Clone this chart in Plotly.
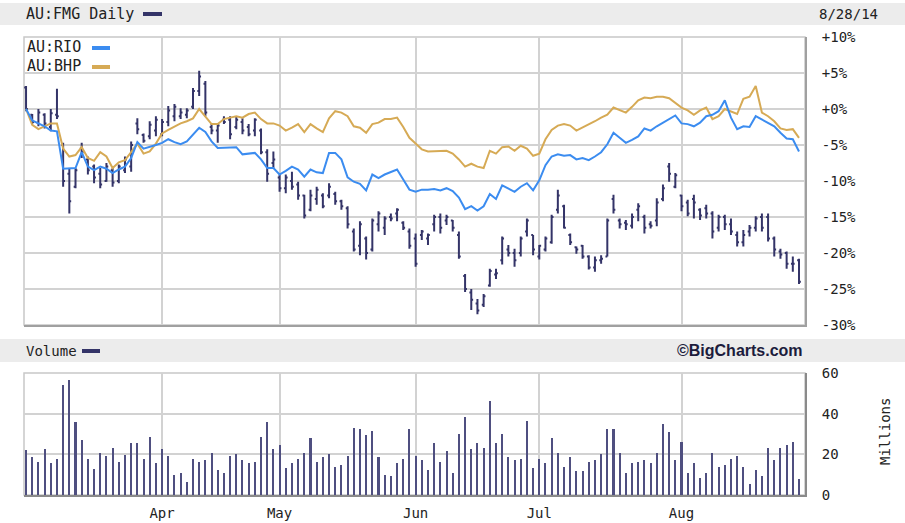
import plotly.graph_objects as go
import pandas as pd

# ---- trading days (ASX, 28 Feb 2014 - 28 Aug 2014) ----
all_days = pd.bdate_range("2014-02-28", "2014-08-28")
holidays = pd.to_datetime(["2014-04-18", "2014-04-21", "2014-04-25", "2014-06-09"])
dates = all_days[~all_days.isin(holidays)]
x = list(range(len(dates)))

month_labels = ["Apr", "May", "Jun", "Jul", "Aug"]
price_ticks = [10, 5, 0, -5, -10, -15, -20, -25, -30]
price_tick_text = ["+10%", "+5%", "+0%", "-5%", "-10%", "-15%", "-20%", "-25%", "-30%"]
volume_ticks = [0, 20, 40, 60]

# ---- AU:FMG daily OHLC, % change ----
fmg_open = [3.0, -0.8, -1.9, -0.8, -2.5, -0.8, -5.0, -9.0, -10.8, -5.5,
            -7.0, -8.0, -9.0, -10.0, -8.5, -10.0, -8.5, -8.0, -2.0, -3.6,
            -3.8, -3.0, -3.5, -1.8, -1.0, -1.0, -0.8, 0.3, 2.5, 3.5,
            -2.5, -3.0, -1.5, -1.5, -2.5, -1.8, -2.5, -3.0, -3.0, -6.0,
            -7.5, -9.5, -11.0, -10.0, -10.5, -12.0, -14.0, -12.5, -12.0, -12.0,
            -11.8, -12.8, -13.8, -17.0, -19.0, -18.0, -19.5, -16.0, -16.5, -15.0,
            -14.5, -15.8, -17.0, -18.0, -17.5, -18.0, -16.0, -15.0, -15.5, -15.5,
            -17.5, -23.2, -25.5, -27.0, -27.2, -24.5, -23.0, -21.0, -19.5, -20.0,
            -20.0, -17.0, -17.5, -20.5, -19.5, -18.5, -14.0, -13.5, -17.5, -19.2,
            -19.0, -20.5, -22.0, -21.0, -20.5, -12.5, -15.5, -15.8, -16.2, -14.0,
            -15.0, -16.0, -15.5, -12.5, -8.0, -10.8, -12.0, -13.0, -12.5, -14.0,
            -13.8, -14.5, -16.5, -15.0, -16.0, -17.5, -18.5, -17.0, -16.5, -15.0,
            -15.0, -18.0, -19.8, -20.0, -21.5, -21.0]
fmg_high = [3.2, -0.7, 0.0, -0.6, 0.0, 2.8, -4.7, -8.2, -8.2, -4.7,
            -6.6, -7.7, -8.2, -7.5, -8.2, -7.7, -6.6, -4.5, -1.3, -3.4,
            -1.7, -1.0, -1.4, 0.4, 0.7, 0.1, 0.1, 2.9, 5.3, 3.9,
            -2.1, -2.1, -1.0, -1.0, -1.0, -1.3, -2.1, -1.3, -2.7, -5.6,
            -5.9, -9.1, -9.1, -8.7, -10.1, -11.9, -11.2, -10.8, -11.7, -10.3,
            -11.5, -12.6, -13.5, -16.6, -15.6, -17.7, -15.2, -14.2, -14.9, -14.5,
            -13.8, -15.6, -16.6, -17.3, -16.8, -17.3, -14.7, -14.5, -14.7, -15.4,
            -17.0, -22.9, -25.0, -26.4, -25.7, -22.2, -22.2, -17.7, -18.9, -19.4,
            -17.7, -15.2, -17.5, -18.9, -17.7, -14.7, -11.2, -13.3, -17.3, -19.1,
            -18.9, -20.3, -20.5, -20.3, -15.2, -11.9, -15.2, -15.4, -14.5, -13.1,
            -14.7, -15.6, -12.4, -10.5, -7.5, -8.9, -11.9, -12.6, -11.9, -13.8,
            -13.3, -14.2, -14.7, -14.7, -15.2, -17.0, -16.8, -16.1, -14.9, -14.5,
            -14.5, -17.7, -19.4, -19.8, -20.5, -20.8]
fmg_low = [-0.3, -2.1, -2.4, -2.7, -3.1, -1.4, -10.8, -14.5, -11.0, -6.8,
           -9.1, -10.3, -11.0, -10.1, -10.8, -10.3, -8.9, -8.7, -3.5, -4.7,
           -4.2, -3.8, -3.8, -2.4, -1.7, -1.4, -1.3, 0.0, 1.8, -1.0,
           -3.5, -4.7, -2.1, -4.2, -2.8, -3.5, -3.8, -3.8, -6.3, -10.1,
           -8.2, -11.5, -11.7, -11.2, -12.6, -15.2, -14.2, -13.3, -13.8, -12.4,
           -13.3, -14.0, -16.6, -19.8, -20.3, -20.9, -19.8, -17.0, -17.5, -15.6,
           -15.6, -16.8, -19.4, -21.9, -18.2, -18.9, -17.0, -17.3, -16.1, -17.0,
           -20.8, -25.4, -27.9, -28.5, -27.5, -24.7, -23.6, -21.6, -20.5, -21.9,
           -20.5, -17.7, -20.3, -20.9, -19.8, -18.7, -14.5, -16.6, -18.9, -20.1,
           -20.8, -22.3, -22.6, -21.5, -20.5, -14.5, -16.6, -16.8, -16.6, -15.6,
           -17.3, -16.6, -16.3, -12.8, -10.1, -11.0, -14.2, -14.9, -15.2, -15.4,
           -15.2, -18.0, -17.0, -16.8, -17.5, -19.1, -19.1, -17.7, -17.0, -17.0,
           -18.4, -20.5, -20.8, -22.2, -22.6, -24.3]
fmg_close = [0.0, -1.8, -0.5, -2.0, -0.6, -1.0, -10.0, -12.8, -8.5, -6.0,
             -8.5, -9.5, -10.5, -8.0, -10.2, -8.0, -7.0, -5.0, -2.8, -4.4,
             -2.2, -1.5, -1.8, -0.2, 0.3, -0.5, -0.2, 2.5, 4.5, -0.5,
             -3.0, -2.3, -1.8, -3.5, -1.5, -3.0, -3.5, -1.5, -6.0, -9.0,
             -7.0, -11.0, -9.5, -10.8, -12.0, -14.8, -12.0, -11.2, -13.5, -10.8,
             -12.8, -13.5, -16.0, -19.5, -16.0, -20.0, -15.5, -14.5, -15.2, -15.2,
             -14.0, -16.5, -19.0, -21.5, -17.0, -17.5, -15.0, -16.5, -15.0, -16.5,
             -20.5, -25.0, -26.5, -28.0, -26.0, -22.5, -22.8, -18.0, -20.0, -21.0,
             -18.0, -15.5, -19.5, -19.0, -18.0, -15.0, -12.0, -16.5, -18.5, -19.5,
             -20.5, -22.0, -21.0, -20.8, -15.5, -14.0, -16.0, -16.0, -15.0, -13.5,
             -16.5, -16.2, -13.0, -11.0, -9.0, -9.2, -13.5, -14.5, -13.0, -14.8,
             -14.5, -17.0, -15.0, -16.0, -17.0, -18.5, -17.5, -16.5, -15.2, -16.5,
             -18.0, -19.5, -20.2, -21.5, -21.5, -24.0]

# ---- comparison lines, % change ----
rio = [0.0, -1.6, -2.0, -2.4, -3.0, -3.1, -8.3, -8.3, -8.2, -6.0,
       -8.0, -8.5, -8.0, -8.3, -8.9, -8.4, -8.0, -6.8, -4.6, -5.5,
       -5.3, -5.0, -4.7, -4.2, -4.6, -4.9, -4.5, -3.6, -2.6, -3.2,
       -4.5, -5.4, -5.4, -5.3, -5.3, -6.3, -6.2, -6.1, -7.0, -8.2,
       -8.2, -9.1, -8.6, -8.0, -8.4, -9.4, -8.4, -8.8, -8.9, -6.1,
       -6.1, -7.0, -9.5, -10.1, -10.4, -11.3, -9.1, -9.6, -9.1, -8.7,
       -8.4, -9.8, -11.2, -11.5, -11.2, -11.2, -11.1, -11.3, -11.0, -11.4,
       -12.3, -13.9, -13.5, -14.1, -13.5, -11.8, -12.5, -10.6, -11.0, -11.5,
       -10.8, -10.3, -11.3, -9.9, -7.8, -6.6, -6.3, -6.5, -6.4, -7.0,
       -6.8, -7.1, -6.6, -6.0, -4.9, -3.3, -4.0, -4.7, -4.3, -3.8,
       -2.7, -3.0, -2.4, -1.9, -1.4, -0.9, -2.0, -2.1, -2.4, -1.9,
       -1.0, -0.8, -0.3, 1.2, -1.2, -2.8, -2.4, -2.5, -1.0, -1.5,
       -1.9, -2.4, -3.3, -4.1, -4.2, -5.9]
bhp = [0.0, -2.2, -2.8, -2.4, -2.0, -2.0, -5.5, -6.6, -6.4, -5.3,
       -6.8, -7.2, -6.0, -6.6, -8.2, -7.4, -7.1, -6.0, -4.8, -6.2,
       -5.9, -4.8, -3.4, -2.9, -2.4, -2.0, -1.7, -1.3, 0.0, -1.0,
       -2.1, -2.1, -1.4, -1.2, -1.0, -1.2, -0.7, -0.5, -1.4, -2.0,
       -2.0, -2.3, -3.0, -2.6, -2.1, -3.2, -2.1, -2.7, -3.2, -1.3,
       -0.3, -0.5, -1.0, -2.4, -2.6, -3.3, -2.1, -1.9, -1.4, -1.4,
       -1.2, -2.5, -4.0, -4.8, -5.6, -5.9, -5.9, -5.8, -5.8, -6.2,
       -7.0, -8.0, -7.6, -8.0, -8.2, -5.8, -6.2, -5.3, -5.2, -5.8,
       -5.1, -5.5, -6.5, -6.2, -4.2, -2.9, -2.3, -2.1, -2.3, -3.0,
       -2.6, -2.1, -1.7, -1.2, -0.8, 0.2, -0.2, -0.5, 0.3, 1.2,
       1.6, 1.5, 1.7, 1.7, 1.5, 0.8, 0.2, -0.2, -0.8, -0.2,
       0.2, -1.4, -1.0, 0.0, -0.3, -0.7, 1.4, 1.7, 3.2, -0.5,
       -1.0, -1.7, -2.7, -2.9, -2.8, -4.0]

# ---- FMG volume, millions ----
volume = [21.9, 18.6, 16.4, 22.5, 15.6, 17.9, 54.2, 56.4, 35.7, 27.1,
          17.9, 12.7, 20.9, 19.4, 23.2, 16.3, 19.6, 25.5, 25.5, 17.9,
          28.4, 15.6, 22.5, 19.4, 10.0, 10.7, 6.2, 17.9, 16.3, 17.1,
          20.9, 12.3, 10.7, 19.4, 20.1, 17.1, 15.5, 16.3, 28.4, 35.7,
          22.5, 24.7, 13.2, 15.5, 17.9, 20.9, 27.8, 16.3, 18.6, 20.1,
          14.0, 14.6, 19.4, 33.0, 32.4, 29.3, 31.6, 18.6, 10.0, 9.4,
          15.5, 17.9, 32.4, 19.4, 17.1, 12.3, 25.5, 16.3, 21.7,
          10.7, 30.1, 38.6, 22.5, 25.5, 23.2, 46.4, 25.5, 30.1, 18.6,
          17.1, 17.8, 36.3, 13.2, 17.8, 15.5, 27.8, 20.9, 14.0, 18.6,
          11.7, 11.7, 16.3, 17.1, 20.1, 32.4, 32.4, 20.9, 10.9, 15.5,
          16.3, 17.1, 15.5, 20.9, 34.7, 30.9, 17.1, 26.3, 10.9, 15.5,
          8.5, 10.9, 20.9, 14.0, 14.6, 17.8, 19.4, 14.0, 5.6, 12.3,
          9.4, 23.2, 17.1, 23.2, 24.7, 26.3, 7.7]

month_idx = [i for i in range(1, len(dates)) if dates[i].month != dates[i - 1].month and dates[i].month >= 4]

NAVY = "#343468"
BLUE = "#3b8cf0"
GOLD = "#d6aa55"
GRID = "#d2d2d2"
FONT = "DejaVu Sans Mono"
TXT = "#222222"

W, H = 905, 523
ML, MR, MT, MB = 24, 100, 37, 28
pw, ph = W - ML - MR, H - MT - MB


def py(ypix):
    return (H - MB - ypix) / ph


def px(xpix):
    return (xpix - ML) / pw


fig = go.Figure()
fig.add_trace(go.Scatter(x=x, y=bhp, mode="lines", line=dict(color=GOLD, width=2),
                         xaxis="x", yaxis="y", hoverinfo="skip", showlegend=False))
fig.add_trace(go.Scatter(x=x, y=rio, mode="lines", line=dict(color=BLUE, width=2),
                         xaxis="x", yaxis="y", hoverinfo="skip", showlegend=False))
fig.add_trace(go.Ohlc(x=x, open=fmg_open, high=fmg_high, low=fmg_low, close=fmg_close,
                      increasing=dict(line=dict(color=NAVY, width=2)),
                      decreasing=dict(line=dict(color=NAVY, width=2)),
                      tickwidth=0.3, xaxis="x", yaxis="y", hoverinfo="skip", showlegend=False))
fig.add_trace(go.Bar(x=x, y=volume, width=0.33, marker=dict(color="#4f4f80", line=dict(width=0)),
                     xaxis="x2", yaxis="y2", hoverinfo="skip", showlegend=False))

xrange = [-0.33, len(x) - 0.03]
price_bottom = py(325)
vol_top = py(373)


def swatch(x0, x1, y0, y1, color):
    return dict(type="rect", xref="paper", yref="paper", x0=px(x0), x1=px(x1), y0=py(y1), y1=py(y0),
                fillcolor=color, line=dict(width=0), layer="above")


fig.update_layout(
    width=W, height=H,
    margin=dict(l=ML, r=MR, t=MT, b=MB, autoexpand=False),
    paper_bgcolor="white", plot_bgcolor="white",
    xaxis=dict(domain=[0, 1], anchor="y", range=xrange, tickvals=month_idx, showticklabels=False,
               showgrid=True, gridcolor=GRID, gridwidth=2, zeroline=False, ticks="", automargin=False,
               showline=True, linecolor="#a0a0a0", linewidth=2, rangeslider=dict(visible=False)),
    yaxis=dict(domain=[price_bottom, 1], anchor="x", side="right", range=[-30, 10],
               tickvals=price_ticks, ticktext=price_tick_text, showgrid=True, gridcolor=GRID,
               gridwidth=2, zeroline=False, ticks="", ticklabelstandoff=12, automargin=False,
               showline=True, linecolor="#a0a0a0", linewidth=2,
               tickfont=dict(family=FONT, size=14, color=TXT)),
    xaxis2=dict(domain=[0, 1], anchor="y2", range=xrange, tickvals=month_idx, ticktext=month_labels,
                showgrid=True, gridcolor=GRID, gridwidth=2, zeroline=False, ticks="", automargin=False,
                ticklabelstandoff=4, showline=True, linecolor="#8a8a8a", linewidth=2,
                tickfont=dict(family=FONT, size=14, color=TXT)),
    yaxis2=dict(domain=[0, vol_top], anchor="x2", side="right", range=[0, 60],
                tickvals=volume_ticks, showgrid=True, gridcolor=GRID, gridwidth=2,
                zeroline=False, ticks="", ticklabelstandoff=12, automargin=False,
                showline=True, linecolor="#8a8a8a", linewidth=2,
                tickfont=dict(family=FONT, size=14, color=TXT)),
    bargap=0,
    shapes=[
        dict(type="rect", xref="paper", yref="paper", x0=px(0), x1=px(W), y0=py(25), y1=py(3),
             fillcolor="#ececec", line=dict(width=0), layer="below"),
        dict(type="rect", xref="paper", yref="paper", x0=px(0), x1=px(W), y0=py(362), y1=py(339),
             fillcolor="#ececec", line=dict(width=0), layer="below"),
        dict(type="rect", xref="x domain", yref="y domain", x0=0, x1=1, y0=0, y1=1,
             line=dict(color="#c8c8c8", width=1.5), layer="below"),
        dict(type="rect", xref="x2 domain", yref="y2 domain", x0=0, x1=1, y0=0, y1=1,
             line=dict(color="#c8c8c8", width=1.5), layer="below"),
        swatch(143, 162, 12, 16, NAVY),
        swatch(92, 110, 46, 50, BLUE),
        swatch(92, 110, 65, 69, GOLD),
        swatch(82, 100, 349, 353, NAVY),
    ],
    annotations=[
        dict(xref="paper", yref="paper", x=px(24), y=py(14), xanchor="left", yanchor="middle",
             showarrow=False, font=dict(family=FONT, size=15, color=TXT), text="AU:FMG Daily"),
        dict(xref="paper", yref="paper", x=px(817), y=py(14), xanchor="left", yanchor="middle",
             showarrow=False, font=dict(family=FONT, size=14, color=TXT), text="8/28/14"),
        dict(xref="paper", yref="paper", x=px(25), y=py(47), xanchor="left", yanchor="middle",
             showarrow=False, font=dict(family=FONT, size=15, color=TXT), text="AU:RIO"),
        dict(xref="paper", yref="paper", x=px(25), y=py(66), xanchor="left", yanchor="middle",
             showarrow=False, font=dict(family=FONT, size=15, color=TXT), text="AU:BHP"),
        dict(xref="paper", yref="paper", x=px(24), y=py(351), xanchor="left", yanchor="middle",
             showarrow=False, font=dict(family=FONT, size=14, color=TXT), text="Volume"),
        dict(xref="paper", yref="paper", x=px(805), y=py(351), xanchor="right", yanchor="middle",
             showarrow=False, font=dict(family="Liberation Sans", size=16, color="#1c1c3c"),
             text="<b>©BigCharts.com</b>"),
        dict(xref="paper", yref="paper", x=px(885), y=py(432), xanchor="center", yanchor="middle",
             showarrow=False, textangle=-90, font=dict(family=FONT, size=14, color=TXT),
             text="Millions"),
    ],
)

fig.write_html("out.html")
